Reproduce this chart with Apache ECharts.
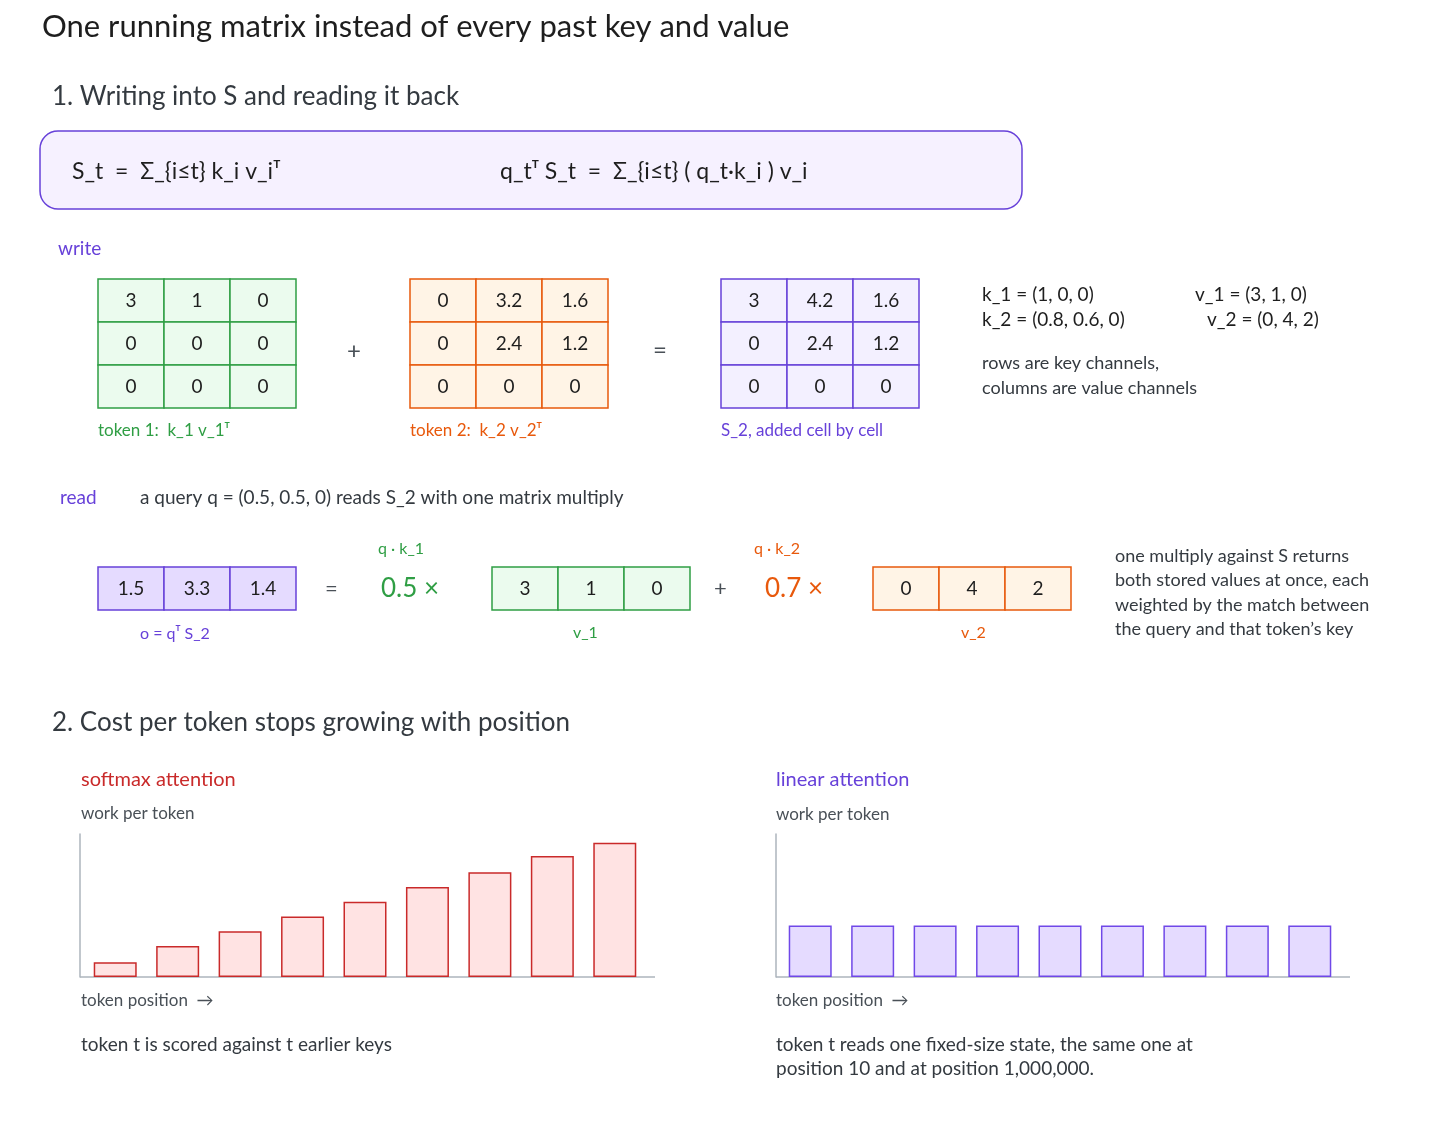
<!DOCTYPE html>
<html><head><meta charset="utf-8">
<script src="https://cdn.jsdelivr.net/npm/echarts@6/dist/echarts.min.js"></script>
<style>html,body{margin:0;background:#fff}#c{width:1456px;height:1128px}</style>
</head><body><div id="c"></div>
<script>
const token1 = [[3,1,0],[0,0,0],[0,0,0]];
const token2 = [[0,3.2,1.6],[0,2.4,1.2],[0,0,0]];
const s2 = [[3,4.2,1.6],[0,2.4,1.2],[0,0,0]];
const outVec = [1.5,3.3,1.4];
const v1 = [3,1,0];
const v2 = [0,4,2];
const positions = ['1','2','3','4','5','6','7','8','9'];
const softmaxWork = [1,2.1,3.1,4.1,5.1,6.1,7.1,8.2,9.1];
const linearWork = [3.5,3.5,3.5,3.5,3.5,3.5,3.5,3.5,3.5];

const F = 'Lato, "Noto Sans", sans-serif';
const INK = '#1e1e1e';
const G = {s:'#2f9e44', f:'#ebfbee'}, O = {s:'#e8590c', f:'#fff4e6'}, P = {s:'#6741d9', f:'#f3f0ff'}, P2 = {s:'#6741d9', f:'#e5dbff'};
const els = [];
function txt(x,y,t,size,color,opt){els.push(Object.assign({type:'text',x,y,style:{text:t,font:size+'px '+F,fill:color||INK,textVerticalAlign:'middle'}},opt||{}));}
function grid(x0,y0,rows,col){
  const cw=66,ch=43;
  rows.forEach((r,i)=>r.forEach((v,j)=>{
    els.push({type:'rect',shape:{x:x0+j*cw,y:y0+i*ch,width:cw,height:ch},style:{fill:col.f,stroke:col.s,lineWidth:1.5}});
    els.push({type:'text',x:x0+j*cw+cw/2,y:y0+i*ch+ch/2,style:{text:String(v),font:'19px '+F,fill:INK,textAlign:'center',textVerticalAlign:'middle'}});
  }));
}
txt(42,27,'One running matrix instead of every past key and value',31);
txt(52,97,'1. Writing into S and reading it back',26,'#343a40');
els.push({type:'rect',shape:{x:40,y:131,width:982,height:78,r:18},style:{fill:'#f6f1ff',stroke:'#6741d9',lineWidth:1.5}});
txt(72,172,'S_t  =  Σ_{i≤t} k_i v_iᵀ',23);
txt(500,172,'q_tᵀ S_t  =  Σ_{i≤t} ( q_t·k_i ) v_i',23);
txt(58,249,'write',19,'#6741d9');
grid(98,279,token1,G); grid(410,279,token2,O); grid(721,279,s2,P);
txt(354,351,'+',24,'#495057',{style:{text:'+',font:'24px '+F,fill:'#495057',textAlign:'center',textVerticalAlign:'middle'}});
txt(660,350,'=',24,'#495057',{style:{text:'=',font:'24px '+F,fill:'#495057',textAlign:'center',textVerticalAlign:'middle'}});
txt(98,431,'token 1:  k_1 v_1ᵀ',17,G.s);
txt(410,431,'token 2:  k_2 v_2ᵀ',17,O.s);
txt(721,431,'S_2, added cell by cell',17,P.s);
txt(982,295,'k_1 = (1, 0, 0)',19); txt(1195,295,'v_1 = (3, 1, 0)',19);
txt(982,320,'k_2 = (0.8, 0.6, 0)',19); txt(1207,320,'v_2 = (0, 4, 2)',19);
txt(982,363,'rows are key channels,',18,'#343a40'); txt(982,388,'columns are value channels',18,'#343a40');
txt(60,498,'read',19,'#6741d9');
txt(140,498,'a query q = (0.5, 0.5, 0) reads S_2 with one matrix multiply',19,'#343a40');
grid(98,567,[outVec],P2); grid(492,567,[v1],G); grid(873,567,[v2],O);
txt(325,589,'=',22,'#495057'); txt(714,589,'+',22,'#495057');
txt(378,549,'q · k_1',16,G.s); txt(381,589,'0.5 ×',26,G.s);
txt(754,549,'q · k_2',16,O.s); txt(765,589,'0.7 ×',26,O.s);
txt(140,634,'o = qᵀ S_2',16,P.s); txt(573,633,'v_1',16,G.s); txt(961,633,'v_2',16,O.s);
['one multiply against S returns','both stored values at once, each','weighted by the match between','the query and that token\u2019s key'].forEach((t,i)=>txt(1115,556+i*24.5,t,18,'#343a40'));
txt(52,723,'2. Cost per token stops growing with position',26,'#343a40');
txt(81,780,'softmax attention',20,'#c92a2a'); txt(81,814,'work per token',17,'#495057');
txt(776,780,'linear attention',20,'#6741d9'); txt(776,815,'work per token',17,'#495057');
txt(81,1001,'token position  →',17,'#495057'); txt(776,1001,'token position  →',17,'#495057');
txt(81,1045,'token t is scored against t earlier keys',19,'#343a40');
txt(776,1045,'token t reads one fixed-size state, the same one at',19,'#343a40');
txt(776,1069,'position 10 and at position 1,000,000.',19,'#343a40');
els.push({type:'line',shape:{x1:80,y1:977,x2:655,y2:977},style:{stroke:'#adb5bd',lineWidth:1.5}});
els.push({type:'line',shape:{x1:776,y1:977,x2:1350,y2:977},style:{stroke:'#adb5bd',lineWidth:1.5}});

function ax(i){return {gridIndex:i,type:'category',data:positions,axisLine:{show:false},axisTick:{show:false},axisLabel:{show:false}};}
function ay(i,off){return {gridIndex:i,type:'value',min:0,max:9.7,offset:off,splitLine:{show:false},axisLabel:{show:false},axisTick:{show:false},axisLine:{show:true,lineStyle:{color:'#adb5bd',width:1.5}}};}
const chart = echarts.init(document.getElementById('c'));
chart.setOption({
  animation:false,
  grid:[{left:84,top:834,width:562,height:143},{left:779,top:834,width:562,height:143}],
  xAxis:[ax(0),ax(1)], yAxis:[ay(0,4),ay(1,3)],
  series:[
    {type:'bar',xAxisIndex:0,yAxisIndex:0,data:softmaxWork,barWidth:43,itemStyle:{color:'#ffe3e3',borderColor:'#c92a2a',borderWidth:1.5}},
    {type:'bar',xAxisIndex:1,yAxisIndex:1,data:linearWork,barWidth:43,itemStyle:{color:'#e5dbff',borderColor:'#7048e8',borderWidth:1.5}}
  ],
  graphic:{elements:els}
});
</script></body></html>
